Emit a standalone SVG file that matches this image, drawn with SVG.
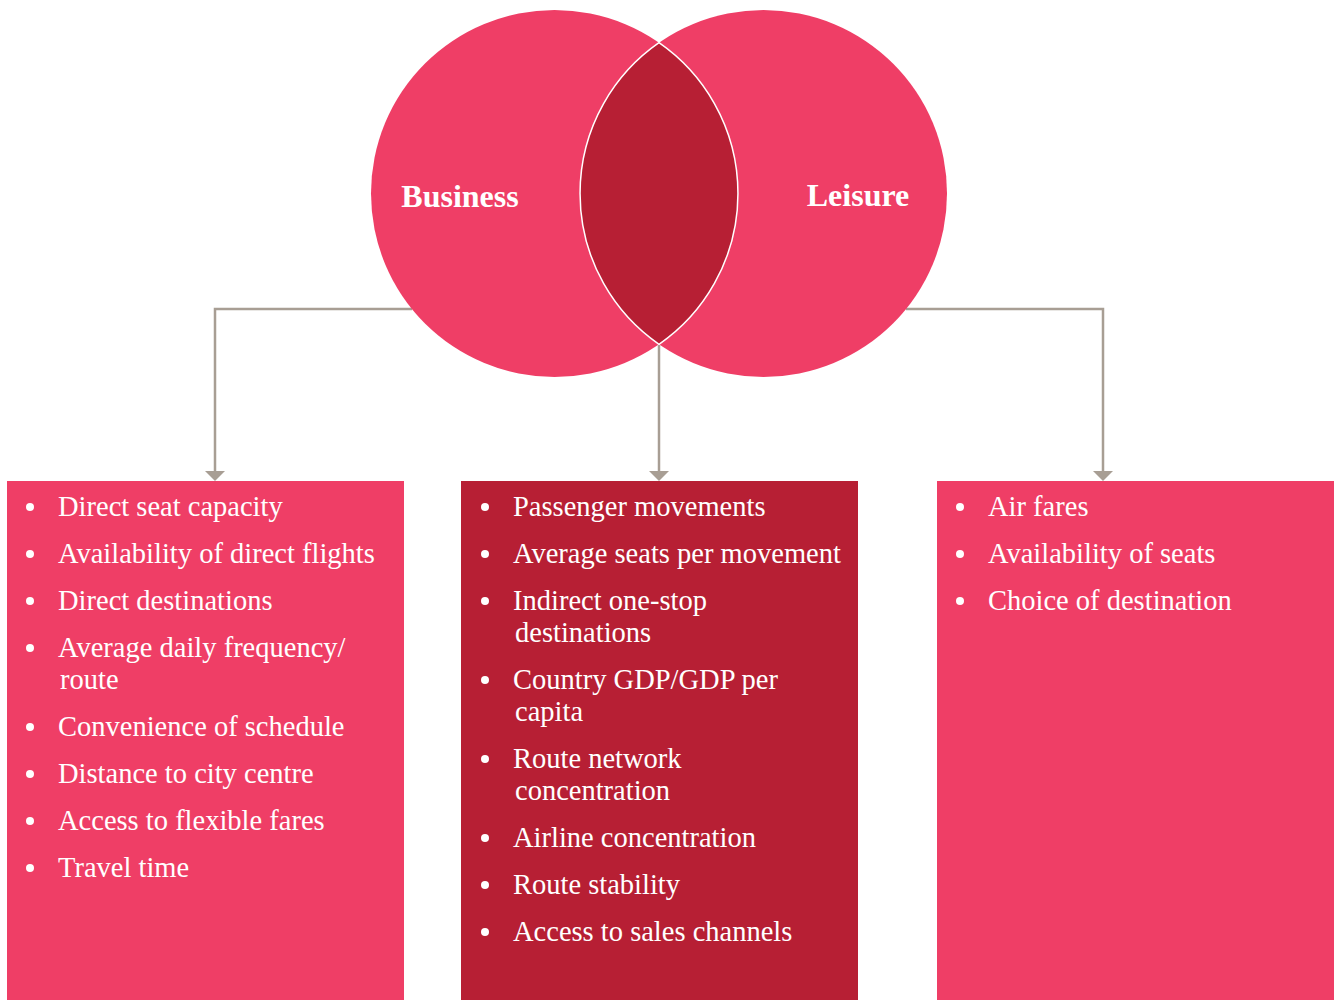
<svg xmlns="http://www.w3.org/2000/svg" width="1336" height="1000" viewBox="0 0 1336 1000">
<defs>
<style>
.pink{fill:#EF3E66}
.dark{fill:#B71F34}
.conn{fill:none;stroke:#A89E94;stroke-width:2.5;marker-end:url(#arr)}
.head{font-family:"Liberation Serif",serif;font-weight:bold;font-size:32px;fill:#fff;text-anchor:middle}
.item{font-family:"Liberation Serif",serif;font-size:28.5px;fill:#fff}
.bul{fill:#fff}
</style>
<marker id="arr" markerWidth="10" markerHeight="20" refX="0" refY="10" orient="auto" markerUnits="userSpaceOnUse" viewBox="0 0 10 20">
<path d="M0,0 L10,10 L0,20 Z" fill="#A89E94"/>
</marker>
</defs>
<rect width="1336" height="1000" fill="#fff"/>
<g id="connectors">
<path class="conn" d="M412,309 H215 V471"/>
<path class="conn" d="M659,345 V471"/>
<path class="conn" d="M906,309 H1103 V471"/>
</g>
<g id="venn">
<g id="business">
<circle class="pink" cx="554.5" cy="193.5" r="183.5"/>
<text class="head" x="460" y="207">Business</text>
</g>
<g id="leisure">
<circle class="pink" cx="763.5" cy="193.5" r="183.5"/>
<text class="head" x="858" y="206">Leisure</text>
</g>
<g id="overlap">
<path class="dark" d="M659,42.7 A183.5,183.5 0 0 1 659,344.3 A183.5,183.5 0 0 1 659,42.7 Z" stroke="#fff" stroke-width="1.5"/>
</g>
</g>
<g id="business-box">
<rect class="pink" x="7" y="481" width="397" height="519"/>
<circle class="bul" cx="30" cy="507" r="4"/><text class="item" x="58" y="516">Direct seat capacity</text>
<circle class="bul" cx="30" cy="554" r="4"/><text class="item" x="58" y="563">Availability of direct flights</text>
<circle class="bul" cx="30" cy="601" r="4"/><text class="item" x="58" y="610">Direct destinations</text>
<circle class="bul" cx="30" cy="648" r="4"/><text class="item" x="58" y="657">Average daily frequency/</text>
<text class="item" x="60" y="689">route</text>
<circle class="bul" cx="30" cy="727" r="4"/><text class="item" x="58" y="736">Convenience of schedule</text>
<circle class="bul" cx="30" cy="774" r="4"/><text class="item" x="58" y="783">Distance to city centre</text>
<circle class="bul" cx="30" cy="821" r="4"/><text class="item" x="58" y="830">Access to flexible fares</text>
<circle class="bul" cx="30" cy="868" r="4"/><text class="item" x="58" y="877">Travel time</text>
</g>
<g id="common-box">
<rect class="dark" x="461" y="481" width="397" height="519"/>
<circle class="bul" cx="485" cy="507" r="4"/><text class="item" x="513" y="516">Passenger movements</text>
<circle class="bul" cx="485" cy="554" r="4"/><text class="item" x="513" y="563">Average seats per movement</text>
<circle class="bul" cx="485" cy="601" r="4"/><text class="item" x="513" y="610">Indirect one-stop</text>
<text class="item" x="515" y="642">destinations</text>
<circle class="bul" cx="485" cy="680" r="4"/><text class="item" x="513" y="689">Country GDP/GDP per</text>
<text class="item" x="515" y="721">capita</text>
<circle class="bul" cx="485" cy="759" r="4"/><text class="item" x="513" y="768">Route network</text>
<text class="item" x="515" y="800">concentration</text>
<circle class="bul" cx="485" cy="838" r="4"/><text class="item" x="513" y="847">Airline concentration</text>
<circle class="bul" cx="485" cy="885" r="4"/><text class="item" x="513" y="894">Route stability</text>
<circle class="bul" cx="485" cy="932" r="4"/><text class="item" x="513" y="941">Access to sales channels</text>
</g>
<g id="leisure-box">
<rect class="pink" x="937" y="481" width="397" height="519"/>
<circle class="bul" cx="960" cy="507" r="4"/><text class="item" x="988" y="516">Air fares</text>
<circle class="bul" cx="960" cy="554" r="4"/><text class="item" x="988" y="563">Availability of seats</text>
<circle class="bul" cx="960" cy="601" r="4"/><text class="item" x="988" y="610">Choice of destination</text>
</g>
</svg>
